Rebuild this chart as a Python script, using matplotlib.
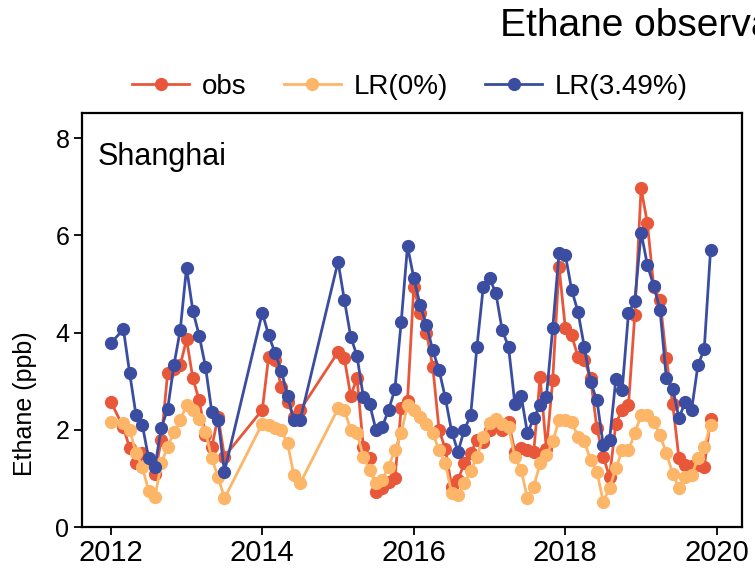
import numpy as np
import pandas as pd
import matplotlib
matplotlib.use('Agg')
import matplotlib.pyplot as plt

plt.rcParams['font.family'] = ['Liberation Sans', 'DejaVu Sans']

# monthly samples (gaps in 2012-2014 are missing months)
months = ['2012-01', '2012-03', '2012-04', '2012-05', '2012-06', '2012-07', '2012-08',
          '2012-09', '2012-10', '2012-11', '2012-12', '2013-01', '2013-02', '2013-03',
          '2013-04', '2013-05', '2013-06', '2013-07',
          '2014-01', '2014-02', '2014-03', '2014-04', '2014-05', '2014-06', '2014-07',
          '2015-01', '2015-02', '2015-03', '2015-04', '2015-05', '2015-06', '2015-07',
          '2015-08', '2015-09', '2015-10', '2015-11', '2015-12',
          '2016-01', '2016-02', '2016-03', '2016-04', '2016-05', '2016-06', '2016-07',
          '2016-08', '2016-09', '2016-10', '2016-11', '2016-12',
          '2017-01', '2017-02', '2017-03', '2017-04', '2017-05', '2017-06', '2017-07',
          '2017-08', '2017-09', '2017-10', '2017-11', '2017-12',
          '2018-01', '2018-02', '2018-03', '2018-04', '2018-05', '2018-06', '2018-07',
          '2018-08', '2018-09', '2018-10', '2018-11', '2018-12',
          '2019-01', '2019-02', '2019-03', '2019-04', '2019-05', '2019-06', '2019-07',
          '2019-08', '2019-09', '2019-10', '2019-11', '2019-12']

obs = [2.58, 2.05, 1.62, 1.31, 1.52, 1.35, 1.10, 1.79, 3.16, 3.25, 3.33, 3.86, 3.06, 2.61,
       1.90, 1.65, 2.27, 1.45,
       2.41, 3.50, 3.44, 2.89, 2.58, 2.27, 2.41,
       3.60, 3.47, 2.70, 3.06, 1.65, 1.42, 0.72, 0.80, 0.92, 1.00, 2.44, 2.60,
       4.94, 4.40, 4.00, 3.30, 2.00, 1.60, 0.83, 0.97, 1.31, 1.52, 1.79, 1.75,
       2.00, 2.15, 2.00, 2.17, 1.55, 1.62, 1.58, 1.55, 3.09, 1.60, 3.02, 5.36,
       4.09, 3.95, 3.50, 3.44, 3.06, 2.03, 1.45, 1.03, 2.13, 2.41, 2.51, 4.36,
       6.97, 6.25, 4.94, 4.67, 3.47, 2.54, 1.41, 1.28, 1.25, 1.28, 1.24, 2.22]

lr0 = [2.16, 2.15, 2.00, 1.52, 1.24, 0.74, 0.62, 1.31, 1.65, 1.95, 2.20, 2.51, 2.40, 2.22,
       1.96, 1.41, 1.03, 0.59,
       2.13, 2.10, 2.03, 2.00, 1.72, 1.07, 0.90,
       2.44, 2.41, 2.00, 1.93, 1.45, 1.17, 0.90, 0.97, 1.24, 1.58, 1.93, 2.51,
       2.41, 2.27, 2.13, 1.93, 1.58, 1.31, 0.69, 0.66, 0.90, 1.15, 1.45, 1.85,
       2.15, 2.22, 2.12, 2.05, 1.45, 1.17, 0.59, 0.83, 1.31, 1.48, 1.76, 2.20,
       2.20, 2.17, 1.86, 1.76, 1.38, 1.14, 0.52, 0.80, 1.21, 1.58, 1.58, 1.93,
       2.30, 2.30, 2.17, 1.89, 1.52, 1.10, 0.80, 1.03, 1.07, 1.41, 1.65, 2.10]

lr349 = [3.78, 4.07, 3.16, 2.30, 2.10, 1.41, 1.24, 2.04, 2.42, 3.33, 4.05, 5.34, 4.45, 3.94,
         3.30, 2.37, 2.20, 1.14,
         4.41, 3.95, 3.59, 3.22, 2.70, 2.20, 2.20,
         5.46, 4.67, 3.92, 3.52, 2.68, 2.53, 2.00, 2.06, 2.41, 2.83, 4.22, 5.78,
         5.12, 4.57, 4.16, 3.64, 3.23, 2.65, 1.96, 1.55, 2.00, 2.30, 3.71, 4.94,
         5.12, 4.81, 4.05, 3.71, 2.54, 2.70, 1.93, 2.24, 2.51, 2.68, 4.09, 5.64,
         5.60, 4.88, 4.43, 3.71, 2.98, 2.61, 1.69, 1.79, 3.04, 2.82, 4.40, 4.65,
         6.06, 5.39, 4.96, 4.47, 3.06, 2.85, 2.24, 2.58, 2.41, 3.33, 3.66, 5.70]

year_ticks = [2012, 2014, 2016, 2018, 2020]
y_ticks = [0, 2, 4, 6, 8]

# decimal year for each month
dt = pd.to_datetime(months)
x = dt.year + (dt.month - 1) / 12.0

fig = plt.figure(figsize=(7.55, 5.69), dpi=100)
ax = fig.add_axes([0.1086, 0.0738, 0.874, 0.7276])

ms = 8.5
lw = 2.0
l_obs, = ax.plot(x, obs, '-o', color='#E8573A', ms=ms, lw=lw, label='obs', zorder=2)
l_lr0, = ax.plot(x, lr0, '-o', color='#FDB568', ms=ms, lw=lw, label='LR(0%)', zorder=3)
l_lr, = ax.plot(x, lr349, '-o', color='#3A4DA0', ms=ms, lw=lw, label='LR(3.49%)', zorder=4)

ax.set_xlim(2011.62, 2020.33)
ax.set_ylim(0, 8.52)
ax.set_xticks(year_ticks)
ax.set_yticks(y_ticks)
ax.tick_params(axis='x', labelsize=21, length=6, width=1.3, pad=2.5)
ax.tick_params(axis='y', labelsize=18, length=6, width=1.3, pad=3)
for s in ax.spines.values():
    s.set_linewidth(1.6)

ax.text(0.024, 0.93, 'Shanghai', transform=ax.transAxes, fontsize=22,
        ha='left', va='top')

fig.text(25 / 755, 1 - 404 / 569, 'Ethane (ppb)', rotation=90, fontsize=18,
         ha='center', va='center')

fig.text(500 / 755, 1 - 26 / 569, 'Ethane observations', fontsize=28,
         ha='left', va='center')

fig.legend(handles=[l_obs, l_lr0, l_lr], loc='center', ncol=3, frameon=False,
           bbox_to_anchor=(410 / 755, 1 - 87 / 569), fontsize=20,
           handlelength=2.05, handletextpad=0.45, columnspacing=1.35,
           borderaxespad=0)

fig.savefig('out.png', dpi=100)
